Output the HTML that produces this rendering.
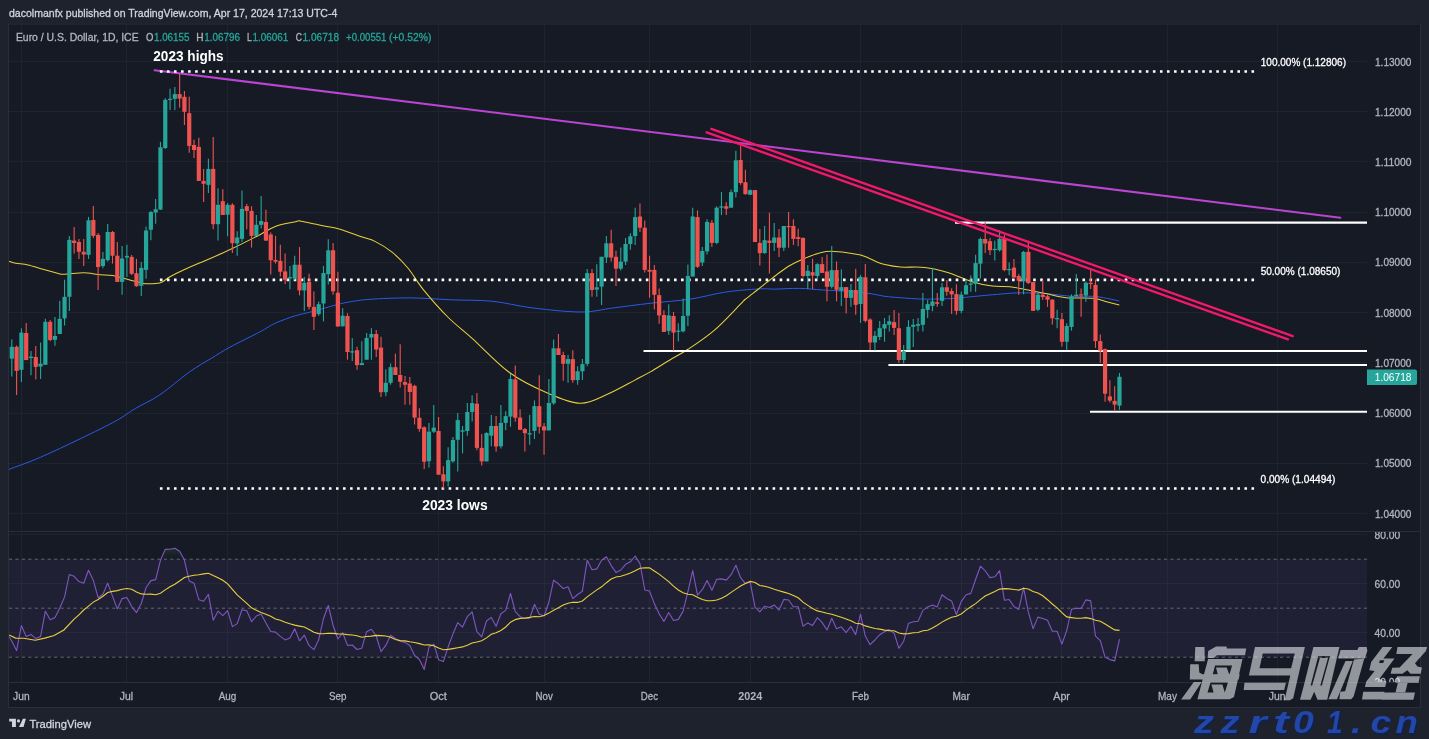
<!DOCTYPE html>
<html><head><meta charset="utf-8">
<style>
html,body{margin:0;padding:0;}
body{width:1429px;height:739px;background:#1e222d;position:relative;overflow:hidden;font-family:"Liberation Sans",sans-serif;}
svg text{font-family:"Liberation Sans",sans-serif;}
</style></head><body>
<div style="position:absolute;left:8px;top:23px;width:1413px;height:685px;background:#161a25;"></div>
<svg width="1429" height="739" style="position:absolute;left:0;top:0;will-change:transform">
<defs><clipPath id="cm"><rect x="9" y="24" width="1358" height="507"/></clipPath>
<clipPath id="cr"><rect x="9" y="532" width="1358" height="150"/></clipPath>
<clipPath id="cra"><rect x="1367" y="532" width="53" height="150"/></clipPath></defs>
<path d="M9 531.5H1420M9 682.5H1420" stroke="#2a2e39" stroke-width="1"/>
<path d="M8.5 24H1420.5V707.5H8.5Z" fill="none" stroke="#2a2e39" stroke-width="1.15"/>
<path d="M21.5 24V682 M126.5 24V682 M227.5 24V682 M337.5 24V682 M438.5 24V682 M544.5 24V682 M649.5 24V682 M750.5 24V682 M860.5 24V682 M961.5 24V682 M1061.5 24V682 M1167.5 24V682 M1277.5 24V682 M9 61.5H1367 M9 111.5H1367 M9 161.5H1367 M9 212.5H1367 M9 262.5H1367 M9 312.5H1367 M9 362.5H1367 M9 413.5H1367 M9 463.5H1367 M9 513.5H1367 M9 534.5H1367 M9 583.5H1367 M9 632.5H1367" stroke="#1f232e" stroke-width="1" fill="none"/>
<g clip-path="url(#cr)">
<rect x="9" y="559.2" width="1358" height="97.9" fill="rgba(126,87,194,0.1)"/>
</g><g clip-path="url(#cr)">
<path d="M9 559.2H1367" stroke="rgba(120,123,134,0.8)" stroke-width="1" stroke-dasharray="3.1 3.3524"/>
<path d="M9 608.2H1367" stroke="rgba(120,123,134,0.8)" stroke-width="1" stroke-dasharray="3.1 3.3524"/>
<path d="M9 657.2H1367" stroke="rgba(120,123,134,0.8)" stroke-width="1" stroke-dasharray="3.1 3.3524"/>
<defs><linearGradient id="gob" gradientUnits="userSpaceOnUse" x1="0" y1="485.8" x2="0" y2="559.2"><stop offset="0" stop-color="#4caf50" stop-opacity="1"/><stop offset="1" stop-color="#4caf50" stop-opacity="0"/></linearGradient><linearGradient id="gos" gradientUnits="userSpaceOnUse" x1="0" y1="657.2" x2="0" y2="730.6"><stop offset="0" stop-color="#ff5252" stop-opacity="0"/><stop offset="1" stop-color="#ff5252" stop-opacity="1"/></linearGradient></defs>
<polygon points="9.0,559.2 11.8,559.2 16.6,559.2 21.4,559.2 26.2,559.2 31.0,559.2 35.8,559.2 40.6,559.2 45.4,559.2 50.2,559.2 55.0,559.2 59.8,559.2 64.6,559.2 69.3,559.2 74.1,559.2 78.9,559.2 83.7,559.2 88.5,559.2 93.3,559.2 98.1,559.2 102.9,559.2 107.7,559.2 112.5,559.2 117.3,559.2 122.1,559.2 126.9,559.2 131.7,559.2 136.5,559.2 141.3,559.2 146.1,559.2 150.9,559.2 155.7,559.2 160.5,559.2 165.2,549.4 170.0,549.2 174.8,548.2 179.6,551.2 184.4,559.2 189.2,559.2 194.0,559.2 198.8,559.2 203.6,559.2 208.4,559.2 213.2,559.2 218.0,559.2 222.8,559.2 227.6,559.2 232.4,559.2 237.2,559.2 242.0,559.2 246.8,559.2 251.6,559.2 256.4,559.2 261.1,559.2 265.9,559.2 270.7,559.2 275.5,559.2 280.3,559.2 285.1,559.2 289.9,559.2 294.7,559.2 299.5,559.2 304.3,559.2 309.1,559.2 313.9,559.2 318.7,559.2 323.5,559.2 328.3,559.2 333.1,559.2 337.9,559.2 342.7,559.2 347.5,559.2 352.3,559.2 357.0,559.2 361.8,559.2 366.6,559.2 371.4,559.2 376.2,559.2 381.0,559.2 385.8,559.2 390.6,559.2 395.4,559.2 400.2,559.2 405.0,559.2 409.8,559.2 414.6,559.2 419.4,559.2 424.2,559.2 429.0,559.2 433.8,559.2 438.6,559.2 443.4,559.2 448.2,559.2 452.9,559.2 457.7,559.2 462.5,559.2 467.3,559.2 472.1,559.2 476.9,559.2 481.7,559.2 486.5,559.2 491.3,559.2 496.1,559.2 500.9,559.2 505.7,559.2 510.5,559.2 515.3,559.2 520.1,559.2 524.9,559.2 529.7,559.2 534.5,559.2 539.3,559.2 544.1,559.2 548.9,559.2 553.6,559.2 558.4,559.2 563.2,559.2 568.0,559.2 572.8,559.2 577.6,559.2 582.4,559.2 587.2,559.2 592.0,559.2 596.8,559.2 601.6,559.2 606.4,556.8 611.2,559.2 616.0,559.2 620.8,559.2 625.6,559.2 630.4,559.2 635.2,556.0 640.0,559.2 644.8,559.2 649.5,559.2 654.3,559.2 659.1,559.2 663.9,559.2 668.7,559.2 673.5,559.2 678.3,559.2 683.1,559.2 687.9,559.2 692.7,559.2 697.5,559.2 702.3,559.2 707.1,559.2 711.9,559.2 716.7,559.2 721.5,559.2 726.3,559.2 731.1,559.2 735.9,559.2 740.6,559.2 745.4,559.2 750.2,559.2 755.0,559.2 759.8,559.2 764.6,559.2 769.4,559.2 774.2,559.2 779.0,559.2 783.8,559.2 788.6,559.2 793.4,559.2 798.2,559.2 803.0,559.2 807.8,559.2 812.6,559.2 817.4,559.2 822.2,559.2 827.0,559.2 831.8,559.2 836.5,559.2 841.3,559.2 846.1,559.2 850.9,559.2 855.7,559.2 860.5,559.2 865.3,559.2 870.1,559.2 874.9,559.2 879.7,559.2 884.5,559.2 889.3,559.2 894.1,559.2 898.9,559.2 903.7,559.2 908.5,559.2 913.3,559.2 918.1,559.2 922.9,559.2 927.7,559.2 932.4,559.2 937.2,559.2 942.0,559.2 946.8,559.2 951.6,559.2 956.4,559.2 961.2,559.2 966.0,559.2 970.8,559.2 975.6,559.2 980.4,559.2 985.2,559.2 990.0,559.2 994.8,559.2 999.6,559.2 1004.4,559.2 1009.2,559.2 1014.0,559.2 1018.8,559.2 1023.6,559.2 1028.3,559.2 1033.1,559.2 1037.9,559.2 1042.7,559.2 1047.5,559.2 1052.3,559.2 1057.1,559.2 1061.9,559.2 1066.7,559.2 1071.5,559.2 1076.3,559.2 1081.1,559.2 1085.9,559.2 1090.7,559.2 1095.5,559.2 1100.3,559.2 1105.1,559.2 1109.9,559.2 1114.7,559.2 1119.5,559.2 1119.5,559.2 9,559.2" fill="url(#gob)"/>
<polygon points="9.0,657.2 11.8,657.2 16.6,657.2 21.4,657.2 26.2,657.2 31.0,657.2 35.8,657.2 40.6,657.2 45.4,657.2 50.2,657.2 55.0,657.2 59.8,657.2 64.6,657.2 69.3,657.2 74.1,657.2 78.9,657.2 83.7,657.2 88.5,657.2 93.3,657.2 98.1,657.2 102.9,657.2 107.7,657.2 112.5,657.2 117.3,657.2 122.1,657.2 126.9,657.2 131.7,657.2 136.5,657.2 141.3,657.2 146.1,657.2 150.9,657.2 155.7,657.2 160.5,657.2 165.2,657.2 170.0,657.2 174.8,657.2 179.6,657.2 184.4,657.2 189.2,657.2 194.0,657.2 198.8,657.2 203.6,657.2 208.4,657.2 213.2,657.2 218.0,657.2 222.8,657.2 227.6,657.2 232.4,657.2 237.2,657.2 242.0,657.2 246.8,657.2 251.6,657.2 256.4,657.2 261.1,657.2 265.9,657.2 270.7,657.2 275.5,657.2 280.3,657.2 285.1,657.2 289.9,657.2 294.7,657.2 299.5,657.2 304.3,657.2 309.1,657.2 313.9,657.2 318.7,657.2 323.5,657.2 328.3,657.2 333.1,657.2 337.9,657.2 342.7,657.2 347.5,657.2 352.3,657.2 357.0,657.2 361.8,657.2 366.6,657.2 371.4,657.2 376.2,657.2 381.0,657.2 385.8,657.2 390.6,657.2 395.4,657.2 400.2,657.2 405.0,657.2 409.8,657.2 414.6,657.2 419.4,659.5 424.2,669.6 429.0,657.2 433.8,657.2 438.6,659.7 443.4,661.6 448.2,657.2 452.9,657.2 457.7,657.2 462.5,657.2 467.3,657.2 472.1,657.2 476.9,657.2 481.7,657.2 486.5,657.2 491.3,657.2 496.1,657.2 500.9,657.2 505.7,657.2 510.5,657.2 515.3,657.2 520.1,657.2 524.9,657.2 529.7,657.2 534.5,657.2 539.3,657.2 544.1,657.2 548.9,657.2 553.6,657.2 558.4,657.2 563.2,657.2 568.0,657.2 572.8,657.2 577.6,657.2 582.4,657.2 587.2,657.2 592.0,657.2 596.8,657.2 601.6,657.2 606.4,657.2 611.2,657.2 616.0,657.2 620.8,657.2 625.6,657.2 630.4,657.2 635.2,657.2 640.0,657.2 644.8,657.2 649.5,657.2 654.3,657.2 659.1,657.2 663.9,657.2 668.7,657.2 673.5,657.2 678.3,657.2 683.1,657.2 687.9,657.2 692.7,657.2 697.5,657.2 702.3,657.2 707.1,657.2 711.9,657.2 716.7,657.2 721.5,657.2 726.3,657.2 731.1,657.2 735.9,657.2 740.6,657.2 745.4,657.2 750.2,657.2 755.0,657.2 759.8,657.2 764.6,657.2 769.4,657.2 774.2,657.2 779.0,657.2 783.8,657.2 788.6,657.2 793.4,657.2 798.2,657.2 803.0,657.2 807.8,657.2 812.6,657.2 817.4,657.2 822.2,657.2 827.0,657.2 831.8,657.2 836.5,657.2 841.3,657.2 846.1,657.2 850.9,657.2 855.7,657.2 860.5,657.2 865.3,657.2 870.1,657.2 874.9,657.2 879.7,657.2 884.5,657.2 889.3,657.2 894.1,657.2 898.9,657.2 903.7,657.2 908.5,657.2 913.3,657.2 918.1,657.2 922.9,657.2 927.7,657.2 932.4,657.2 937.2,657.2 942.0,657.2 946.8,657.2 951.6,657.2 956.4,657.2 961.2,657.2 966.0,657.2 970.8,657.2 975.6,657.2 980.4,657.2 985.2,657.2 990.0,657.2 994.8,657.2 999.6,657.2 1004.4,657.2 1009.2,657.2 1014.0,657.2 1018.8,657.2 1023.6,657.2 1028.3,657.2 1033.1,657.2 1037.9,657.2 1042.7,657.2 1047.5,657.2 1052.3,657.2 1057.1,657.2 1061.9,657.2 1066.7,657.2 1071.5,657.2 1076.3,657.2 1081.1,657.2 1085.9,657.2 1090.7,657.2 1095.5,657.2 1100.3,657.2 1105.1,657.3 1109.9,659.6 1114.7,660.9 1119.5,657.2 1119.5,657.2 9,657.2" fill="url(#gos)"/>
<polyline points="9.0,636.5 11.8,641.2 16.6,650.6 21.4,625.5 26.2,636.6 31.0,634.4 35.8,638.6 40.6,636.4 45.4,611.2 50.2,619.8 55.0,617.6 59.8,608.0 64.6,596.9 69.3,574.5 74.1,576.3 78.9,581.6 83.7,583.3 88.5,570.3 93.3,580.2 98.1,597.7 102.9,594.2 107.7,583.1 112.5,596.1 117.3,608.9 122.1,598.6 126.9,597.5 131.7,606.6 136.5,612.6 141.3,603.5 146.1,587.5 150.9,580.6 155.7,579.6 160.5,560.2 165.2,549.4 170.0,549.2 174.8,548.2 179.6,551.2 184.4,560.1 189.2,580.9 194.0,583.2 198.8,599.7 203.6,601.2 208.4,594.4 213.2,620.2 218.0,611.2 222.8,615.6 227.6,610.7 232.4,626.6 237.2,623.6 242.0,609.7 246.8,610.7 251.6,621.7 256.4,616.0 261.1,614.0 265.9,623.1 270.7,631.5 275.5,632.1 280.3,636.4 285.1,639.9 289.9,637.9 294.7,628.7 299.5,640.8 304.3,635.1 309.1,645.7 313.9,649.7 318.7,639.8 323.5,618.5 328.3,605.5 333.1,625.5 337.9,639.0 342.7,632.8 347.5,645.4 352.3,645.0 357.0,649.5 361.8,648.2 366.6,631.8 371.4,629.3 376.2,636.0 381.0,651.6 385.8,645.4 390.6,635.3 395.4,638.5 400.2,641.2 405.0,642.4 409.8,645.5 414.6,655.5 419.4,659.5 424.2,669.6 429.0,647.0 433.8,644.1 438.6,659.7 443.4,661.6 448.2,646.8 452.9,634.1 457.7,622.7 462.5,627.1 467.3,616.7 472.1,611.9 476.9,631.7 481.7,636.8 486.5,621.0 491.3,617.4 496.1,626.3 500.9,613.8 505.7,610.4 510.5,593.5 515.3,611.7 520.1,616.7 524.9,618.2 529.7,618.2 534.5,604.2 539.3,614.3 544.1,616.0 548.9,602.0 553.6,580.1 558.4,583.8 563.2,588.6 568.0,586.7 572.8,598.6 577.6,594.5 582.4,591.2 587.2,560.2 592.0,569.7 596.8,568.9 601.6,560.3 606.4,556.8 611.2,565.6 616.0,572.4 620.8,570.0 625.6,564.3 630.4,561.8 635.2,556.0 640.0,563.6 644.8,590.0 649.5,591.0 654.3,603.6 659.1,613.8 663.9,621.4 668.7,612.5 673.5,620.5 678.3,619.4 683.1,611.1 687.9,591.7 692.7,570.6 697.5,595.1 702.3,589.7 707.1,580.5 711.9,590.2 716.7,579.3 721.5,578.9 726.3,580.1 731.1,574.7 735.9,565.3 740.6,577.7 745.4,583.6 750.2,582.1 755.0,607.2 759.8,611.9 764.6,606.2 769.4,607.5 774.2,604.9 779.0,610.1 783.8,599.4 788.6,600.0 793.4,606.7 798.2,606.7 803.0,626.2 807.8,622.9 812.6,625.4 817.4,617.7 822.2,622.6 827.0,630.0 831.8,618.2 836.5,628.8 841.3,626.8 846.1,632.6 850.9,626.4 855.7,634.6 860.5,614.2 865.3,636.1 870.1,644.7 874.9,640.0 879.7,634.7 884.5,631.8 889.3,629.6 894.1,633.2 898.9,648.3 903.7,641.2 908.5,623.2 913.3,621.8 918.1,621.3 922.9,610.4 927.7,606.9 932.4,605.0 937.2,606.9 942.0,594.7 946.8,598.5 951.6,600.9 956.4,614.8 961.2,601.6 966.0,594.7 970.8,593.4 975.6,579.5 980.4,566.2 985.2,570.8 990.0,577.6 994.8,576.8 999.6,570.7 1004.4,600.3 1009.2,599.5 1014.0,606.6 1018.8,609.4 1023.6,587.8 1028.3,611.9 1033.1,628.6 1037.9,617.1 1042.7,618.5 1047.5,620.2 1052.3,631.3 1057.1,631.2 1061.9,644.1 1066.7,630.6 1071.5,609.3 1076.3,608.2 1081.1,608.4 1085.9,599.9 1090.7,600.9 1095.5,636.2 1100.3,640.6 1105.1,657.3 1109.9,659.6 1114.7,660.9 1119.5,639.1" fill="none" stroke="#7e57c2" stroke-width="1.1" stroke-linejoin="round"/>
<polyline points="9.1,635.0 15.6,638.1 23.8,638.3 35.3,640.3 44.8,638.1 54.1,635.6 63.9,630.0 74.1,619.1 78.9,614.9 83.7,610.0 88.5,606.1 93.3,602.1 98.1,599.5 102.9,596.3 107.7,592.5 112.5,591.4 117.3,590.6 122.1,589.3 126.9,588.5 131.7,589.2 136.5,591.9 141.3,593.9 146.1,594.3 150.9,594.1 155.7,594.8 160.5,593.3 165.2,589.9 170.0,586.7 174.8,584.2 179.6,581.0 184.4,577.5 189.2,576.2 194.0,575.2 198.8,574.7 203.6,573.9 208.4,573.2 213.2,575.6 218.0,577.8 222.8,580.3 227.6,583.9 232.4,589.4 237.2,594.8 242.0,599.2 246.8,603.4 251.6,607.8 256.4,610.3 261.1,612.5 265.9,614.2 270.7,616.3 275.5,619.0 280.3,620.2 285.1,622.2 289.9,623.8 294.7,625.1 299.5,626.1 304.3,627.0 309.1,629.5 313.9,632.3 318.7,633.6 323.5,633.8 328.3,633.2 333.1,633.4 337.9,633.9 342.7,634.0 347.5,634.6 352.3,635.0 357.0,635.8 361.8,637.2 366.6,636.5 371.4,636.1 376.2,635.4 381.0,635.6 385.8,636.0 390.6,637.2 395.4,639.5 400.2,640.6 405.0,640.9 409.8,641.8 414.6,642.5 419.4,643.6 424.2,645.0 429.0,644.9 433.8,645.8 438.6,648.0 443.4,649.8 448.2,649.4 452.9,648.6 457.7,647.7 462.5,646.9 467.3,645.2 472.1,643.0 476.9,642.0 481.7,640.7 486.5,637.9 491.3,634.2 496.1,632.7 500.9,630.5 505.7,627.0 510.5,622.2 515.3,619.6 520.1,618.4 524.9,618.1 529.7,617.4 534.5,616.5 539.3,616.7 544.1,615.6 548.9,613.1 553.6,610.2 558.4,607.8 563.2,605.1 568.0,603.2 572.8,602.3 577.6,602.4 582.4,600.9 587.2,596.9 592.0,593.4 596.8,589.9 601.6,586.8 606.4,582.7 611.2,579.1 616.0,577.0 620.8,576.2 625.6,574.8 630.4,572.9 635.2,570.7 640.0,568.2 644.8,567.9 649.5,567.9 654.3,571.0 659.1,574.1 663.9,577.9 668.7,581.6 673.5,586.2 678.3,590.0 683.1,592.8 687.9,594.3 692.7,594.8 697.5,597.2 702.3,599.6 707.1,600.8 711.9,600.8 716.7,600.0 721.5,598.2 726.3,595.8 731.1,592.4 735.9,589.1 740.6,586.0 745.4,583.5 750.2,581.4 755.0,582.5 759.8,585.5 764.6,586.2 769.4,587.5 774.2,589.3 779.0,590.7 783.8,592.1 788.6,593.6 793.4,595.5 798.2,597.8 803.0,602.1 807.8,605.4 812.6,608.4 817.4,610.9 822.2,612.0 827.0,613.3 831.8,614.2 836.5,615.7 841.3,617.2 846.1,618.9 850.9,620.8 855.7,623.3 860.5,623.8 865.3,625.9 870.1,627.2 874.9,628.5 879.7,629.1 884.5,630.1 889.3,630.6 894.1,630.8 898.9,633.0 903.7,633.9 908.5,633.6 913.3,632.8 918.1,632.5 922.9,630.7 927.7,630.2 932.4,628.0 937.2,625.3 942.0,622.1 946.8,619.5 951.6,617.3 956.4,616.2 961.2,614.0 966.0,610.1 970.8,606.7 975.6,603.6 980.4,599.6 985.2,596.0 990.0,593.7 994.8,591.5 999.6,589.1 1004.4,588.6 1009.2,588.9 1014.0,589.5 1018.8,590.1 1023.6,588.2 1028.3,589.0 1033.1,591.4 1037.9,593.1 1042.7,595.8 1047.5,599.7 1052.3,604.0 1057.1,607.8 1061.9,612.7 1066.7,616.9 1071.5,617.6 1076.3,618.2 1081.1,618.3 1085.9,617.6 1090.7,618.6 1095.5,620.3 1100.3,621.2 1105.1,624.0 1109.9,627.0 1114.7,629.9 1119.5,630.4" fill="none" stroke="#e9d03c" stroke-width="1.1"/>
</g>
<g clip-path="url(#cm)">
<path d="M8.9 469.4C14.2 467.4 28.6 462.4 40.6 457.2C52.6 452.0 68.6 444.4 81.2 438.3C93.8 432.2 107.3 425.7 116.3 420.7C125.3 415.7 128.1 412.8 135.3 408.5C142.5 404.2 150.6 401.1 159.6 395.0C168.6 388.9 180.8 378.1 189.4 372.0C198.0 365.9 204.2 362.6 211.0 358.5C217.8 354.4 221.9 351.5 230.0 347.1C238.1 342.7 252.1 336.0 259.7 332.0C267.2 328.0 269.3 325.9 275.3 323.2C281.3 320.5 289.5 317.6 295.6 315.7C301.7 313.8 305.0 313.5 311.8 311.7C318.6 309.9 329.9 306.5 336.2 304.9C342.5 303.3 344.1 302.8 349.7 301.9C355.3 301.0 359.9 300.0 370.0 299.3C380.1 298.6 397.1 297.8 410.6 297.9C424.1 298.0 437.7 299.2 451.2 299.8C464.7 300.4 478.3 299.9 491.8 301.2C505.3 302.5 517.4 306.1 532.3 307.9C547.2 309.7 567.5 312.0 581.0 312.0C594.5 312.0 602.0 309.3 613.5 307.9C625.0 306.4 637.1 304.8 650.0 303.3C662.9 301.8 678.4 300.9 690.9 299.0C703.4 297.1 713.4 293.9 724.7 292.2C736.0 290.5 750.2 289.4 758.6 288.9C767.0 288.4 768.4 289.2 775.3 289.1C782.1 289.0 791.8 288.2 799.7 288.4C807.6 288.5 814.4 289.5 822.7 290.0C831.0 290.5 841.8 290.8 849.7 291.4C857.6 292.0 864.1 292.8 870.0 293.6C875.9 294.4 879.9 295.6 884.9 296.3C889.9 297.0 893.7 297.2 900.3 297.7C906.9 298.2 915.7 299.0 924.7 299.1C933.7 299.2 946.1 298.8 954.4 298.4C962.7 297.9 965.5 297.2 974.7 296.4C984.0 295.5 1001.5 293.9 1009.9 293.3C1018.3 292.7 1019.3 292.8 1025.3 292.9C1031.2 292.9 1037.7 293.0 1045.6 293.6C1053.5 294.2 1064.8 295.9 1072.7 296.3C1080.6 296.8 1087.4 296.0 1093.0 296.3C1098.6 296.6 1102.1 297.5 1106.5 298.3C1110.9 299.1 1117.2 300.6 1119.3 301.0" fill="none" stroke="#2a5be6" stroke-width="1.0"/>
<path d="M9.1 261.2C10.2 261.5 12.7 262.6 15.8 263.2C18.9 263.8 23.5 264.0 28.0 265.0C32.5 266.0 37.7 267.9 42.9 269.3C48.1 270.8 55.5 272.9 59.1 273.7C62.7 274.5 60.4 274.4 64.5 274.2C68.6 274.0 78.8 272.8 83.5 272.7C88.2 272.6 90.2 273.4 93.0 273.7C95.8 274.0 96.7 274.4 100.0 274.7C103.3 275.0 108.5 274.8 112.6 275.4C116.7 276.0 121.0 277.6 124.5 278.5C128.0 279.4 130.4 280.2 133.6 281.0C136.8 281.8 139.7 283.0 143.4 283.4C147.1 283.8 153.0 283.6 156.0 283.4C159.0 283.2 159.3 283.5 161.6 282.4C163.9 281.3 166.3 278.9 170.0 276.8C173.7 274.7 179.0 272.1 184.0 269.8C189.0 267.5 196.6 264.2 200.0 262.8C203.4 261.4 198.9 263.5 204.4 261.1C209.9 258.7 223.6 252.7 232.8 248.3C242.1 243.9 252.8 238.3 259.9 234.7C267.0 231.0 269.4 228.6 275.3 226.4C281.2 224.2 291.5 222.6 295.6 221.7C299.7 220.8 297.1 220.6 300.0 220.9C302.9 221.2 308.8 222.9 313.2 223.8C317.6 224.7 322.2 225.5 326.7 226.4C331.2 227.3 334.4 227.6 340.0 229.3C345.6 231.0 354.6 234.4 360.5 236.5C366.4 238.6 370.1 238.9 375.4 241.6C380.7 244.2 387.0 248.0 392.4 252.4C397.8 256.8 402.8 261.9 407.9 268.0C413.0 274.1 416.5 281.1 423.1 289.3C429.8 297.5 439.6 308.8 447.8 317.0C456.0 325.2 462.1 329.4 472.4 338.6C482.7 347.9 497.1 363.5 509.4 372.5C521.7 381.5 534.5 387.4 546.3 392.5C558.1 397.6 569.9 403.1 580.2 403.3C590.5 403.6 598.8 397.9 607.9 394.0C617.0 390.1 627.8 383.8 634.9 380.1C642.0 376.4 644.5 375.2 650.3 371.9C656.1 368.6 663.2 364.0 669.5 360.2C675.8 356.4 680.6 354.2 688.0 349.3C695.4 344.4 705.2 338.0 713.9 330.6C722.6 323.2 734.8 309.9 740.0 304.7C745.2 299.5 742.1 301.9 745.0 299.5C747.9 297.1 753.1 293.2 757.2 290.0C761.4 286.8 766.6 282.6 769.9 280.0C773.2 277.4 773.8 276.8 777.0 274.5C780.2 272.2 784.8 268.5 789.0 266.0C793.2 263.5 796.6 261.8 802.0 259.5C807.4 257.2 815.8 253.8 821.3 252.4C826.8 251.1 828.3 251.0 834.8 251.4C841.3 251.8 853.5 253.3 860.5 255.1C867.5 256.8 872.7 260.3 876.8 261.9C880.9 263.5 881.0 263.7 884.9 264.6C888.8 265.5 893.7 266.6 900.3 267.1C906.9 267.6 916.8 266.5 924.7 267.4C932.6 268.3 939.8 270.1 947.7 272.5C955.6 274.9 964.6 279.4 972.0 281.7C979.4 284.0 986.0 285.2 992.3 286.1C998.6 287.0 1004.4 286.2 1009.9 286.8C1015.4 287.4 1019.3 288.4 1025.3 289.5C1031.2 290.6 1038.8 292.2 1045.6 293.6C1052.4 295.0 1058.0 296.9 1065.9 297.7C1073.8 298.5 1086.2 297.6 1093.0 298.3C1099.8 299.0 1102.1 300.6 1106.5 301.7C1110.9 302.8 1117.2 304.5 1119.3 305.1" fill="none" stroke="#e9d03c" stroke-width="1.05"/>
<path d="M955.0 222.6H1367" stroke="#ffffff" stroke-width="2.05"/>
<path d="M643.5 350.9H1367" stroke="#ffffff" stroke-width="2.05"/>
<path d="M888.4 364.9H1367" stroke="#ffffff" stroke-width="2.05"/>
<path d="M1090.0 411.8H1367" stroke="#ffffff" stroke-width="2.05"/>
<path d="M154.6 70.3L1340.4 217.7" stroke="#ba45d0" stroke-width="2.05" stroke-linecap="round"/>
<path d="M159.9 71.5H1255" stroke="#ffffff" stroke-width="2.6" stroke-dasharray="2.6 4.4425"/>
<path d="M159.9 279.9H1255" stroke="#ffffff" stroke-width="2.6" stroke-dasharray="2.6 4.4425"/>
<path d="M159.9 488.5H1255" stroke="#ffffff" stroke-width="2.6" stroke-dasharray="2.6 4.4425"/>
<path d="M11.81 339.4V376.6" stroke="#26a69a" stroke-width="1.1"/>
<rect x="9.71" y="346.8" width="4.2" height="11.9" fill="#26a69a"/>
<path d="M16.60 345.5V395.0" stroke="#ef5350" stroke-width="1.1"/>
<rect x="14.50" y="346.8" width="4.2" height="24.1" fill="#ef5350"/>
<path d="M21.40 328.3V382.0" stroke="#26a69a" stroke-width="1.1"/>
<rect x="19.30" y="332.6" width="4.2" height="37.2" fill="#26a69a"/>
<path d="M26.20 322.9V360.1" stroke="#ef5350" stroke-width="1.1"/>
<rect x="24.09" y="333.0" width="4.2" height="27.1" fill="#ef5350"/>
<path d="M30.99 350.9V375.2" stroke="#26a69a" stroke-width="1.1"/>
<rect x="28.89" y="356.6" width="4.2" height="1.4" fill="#26a69a"/>
<path d="M35.78 345.9V379.6" stroke="#ef5350" stroke-width="1.1"/>
<rect x="33.68" y="357.0" width="4.2" height="9.9" fill="#ef5350"/>
<path d="M40.58 342.4V379.0" stroke="#26a69a" stroke-width="1.1"/>
<rect x="38.48" y="363.7" width="4.2" height="2.8" fill="#26a69a"/>
<path d="M45.38 318.8V364.8" stroke="#26a69a" stroke-width="1.1"/>
<rect x="43.27" y="321.8" width="4.2" height="43.0" fill="#26a69a"/>
<path d="M50.17 320.0V341.2" stroke="#ef5350" stroke-width="1.1"/>
<rect x="48.07" y="321.8" width="4.2" height="18.2" fill="#ef5350"/>
<path d="M54.96 317.0V345.8" stroke="#26a69a" stroke-width="1.1"/>
<rect x="52.86" y="336.0" width="4.2" height="3.8" fill="#26a69a"/>
<path d="M59.76 300.8V334.0" stroke="#26a69a" stroke-width="1.1"/>
<rect x="57.66" y="318.8" width="4.2" height="15.2" fill="#26a69a"/>
<path d="M64.56 279.8V325.5" stroke="#26a69a" stroke-width="1.1"/>
<rect x="62.46" y="296.8" width="4.2" height="21.6" fill="#26a69a"/>
<path d="M69.35 235.9V311.0" stroke="#26a69a" stroke-width="1.1"/>
<rect x="67.25" y="239.9" width="4.2" height="56.9" fill="#26a69a"/>
<path d="M74.14 227.0V253.5" stroke="#ef5350" stroke-width="1.1"/>
<rect x="72.05" y="240.6" width="4.2" height="2.4" fill="#ef5350"/>
<path d="M78.94 239.0V258.9" stroke="#ef5350" stroke-width="1.1"/>
<rect x="76.84" y="242.0" width="4.2" height="9.8" fill="#ef5350"/>
<path d="M83.73 239.0V266.0" stroke="#ef5350" stroke-width="1.1"/>
<rect x="81.64" y="251.8" width="4.2" height="2.7" fill="#ef5350"/>
<path d="M88.53 216.9V258.9" stroke="#26a69a" stroke-width="1.1"/>
<rect x="86.43" y="220.3" width="4.2" height="34.5" fill="#26a69a"/>
<path d="M93.32 206.0V237.9" stroke="#ef5350" stroke-width="1.1"/>
<rect x="91.22" y="220.0" width="4.2" height="15.9" fill="#ef5350"/>
<path d="M98.12 233.0V290.0" stroke="#ef5350" stroke-width="1.1"/>
<rect x="96.02" y="234.9" width="4.2" height="32.1" fill="#ef5350"/>
<path d="M102.91 252.0V268.3" stroke="#26a69a" stroke-width="1.1"/>
<rect x="100.81" y="258.9" width="4.2" height="7.1" fill="#26a69a"/>
<path d="M107.71 224.0V261.6" stroke="#26a69a" stroke-width="1.1"/>
<rect x="105.61" y="232.0" width="4.2" height="28.2" fill="#26a69a"/>
<path d="M112.50 231.0V263.6" stroke="#ef5350" stroke-width="1.1"/>
<rect x="110.41" y="232.0" width="4.2" height="23.7" fill="#ef5350"/>
<path d="M117.30 242.0V281.9" stroke="#ef5350" stroke-width="1.1"/>
<rect x="115.20" y="255.7" width="4.2" height="26.2" fill="#ef5350"/>
<path d="M122.09 246.0V294.7" stroke="#26a69a" stroke-width="1.1"/>
<rect x="120.00" y="258.5" width="4.2" height="23.4" fill="#26a69a"/>
<path d="M126.89 244.7V277.0" stroke="#26a69a" stroke-width="1.1"/>
<rect x="124.79" y="255.9" width="4.2" height="1.6" fill="#26a69a"/>
<path d="M131.69 255.0V275.0" stroke="#ef5350" stroke-width="1.1"/>
<rect x="129.59" y="256.9" width="4.2" height="16.9" fill="#ef5350"/>
<path d="M136.48 258.8V286.8" stroke="#ef5350" stroke-width="1.1"/>
<rect x="134.38" y="273.3" width="4.2" height="12.9" fill="#ef5350"/>
<path d="M141.28 262.0V296.0" stroke="#26a69a" stroke-width="1.1"/>
<rect x="139.18" y="267.9" width="4.2" height="17.9" fill="#26a69a"/>
<path d="M146.07 226.5V278.7" stroke="#26a69a" stroke-width="1.1"/>
<rect x="143.97" y="230.5" width="4.2" height="39.4" fill="#26a69a"/>
<path d="M150.87 210.9V240.3" stroke="#26a69a" stroke-width="1.1"/>
<rect x="148.77" y="212.0" width="4.2" height="17.8" fill="#26a69a"/>
<path d="M155.66 199.0V223.7" stroke="#26a69a" stroke-width="1.1"/>
<rect x="153.56" y="209.3" width="4.2" height="3.2" fill="#26a69a"/>
<path d="M160.46 141.9V210.0" stroke="#26a69a" stroke-width="1.1"/>
<rect x="158.36" y="147.3" width="4.2" height="62.2" fill="#26a69a"/>
<path d="M165.25 98.3V149.0" stroke="#26a69a" stroke-width="1.1"/>
<rect x="163.15" y="99.9" width="4.2" height="48.1" fill="#26a69a"/>
<path d="M170.05 88.8V110.0" stroke="#26a69a" stroke-width="1.1"/>
<rect x="167.95" y="98.8" width="4.2" height="1.2" fill="#26a69a"/>
<path d="M174.84 87.0V110.0" stroke="#26a69a" stroke-width="1.1"/>
<rect x="172.74" y="94.1" width="4.2" height="4.7" fill="#26a69a"/>
<path d="M179.63 73.5V107.4" stroke="#ef5350" stroke-width="1.1"/>
<rect x="177.53" y="94.1" width="4.2" height="4.5" fill="#ef5350"/>
<path d="M184.43 91.1V125.0" stroke="#ef5350" stroke-width="1.1"/>
<rect x="182.33" y="96.8" width="4.2" height="15.0" fill="#ef5350"/>
<path d="M189.22 96.8V152.7" stroke="#ef5350" stroke-width="1.1"/>
<rect x="187.12" y="113.2" width="4.2" height="32.7" fill="#ef5350"/>
<path d="M194.02 139.8V158.0" stroke="#ef5350" stroke-width="1.1"/>
<rect x="191.92" y="145.0" width="4.2" height="5.0" fill="#ef5350"/>
<path d="M198.81 137.8V181.0" stroke="#ef5350" stroke-width="1.1"/>
<rect x="196.72" y="146.9" width="4.2" height="34.0" fill="#ef5350"/>
<path d="M203.61 169.0V202.0" stroke="#ef5350" stroke-width="1.1"/>
<rect x="201.51" y="180.9" width="4.2" height="2.9" fill="#ef5350"/>
<path d="M208.41 158.8V193.0" stroke="#26a69a" stroke-width="1.1"/>
<rect x="206.31" y="168.9" width="4.2" height="16.0" fill="#26a69a"/>
<path d="M213.20 137.1V229.2" stroke="#ef5350" stroke-width="1.1"/>
<rect x="211.10" y="168.9" width="4.2" height="55.3" fill="#ef5350"/>
<path d="M218.00 188.3V240.4" stroke="#26a69a" stroke-width="1.1"/>
<rect x="215.90" y="204.8" width="4.2" height="19.4" fill="#26a69a"/>
<path d="M222.79 189.2V215.0" stroke="#ef5350" stroke-width="1.1"/>
<rect x="220.69" y="201.2" width="4.2" height="13.8" fill="#ef5350"/>
<path d="M227.59 203.0V236.2" stroke="#26a69a" stroke-width="1.1"/>
<rect x="225.49" y="204.8" width="4.2" height="9.9" fill="#26a69a"/>
<path d="M232.38 203.2V253.0" stroke="#ef5350" stroke-width="1.1"/>
<rect x="230.28" y="204.8" width="4.2" height="38.4" fill="#ef5350"/>
<path d="M237.18 231.2V255.7" stroke="#26a69a" stroke-width="1.1"/>
<rect x="235.08" y="237.5" width="4.2" height="5.9" fill="#26a69a"/>
<path d="M241.97 190.6V242.0" stroke="#26a69a" stroke-width="1.1"/>
<rect x="239.87" y="208.9" width="4.2" height="30.0" fill="#26a69a"/>
<path d="M246.77 204.1V229.2" stroke="#ef5350" stroke-width="1.1"/>
<rect x="244.67" y="206.2" width="4.2" height="4.7" fill="#ef5350"/>
<path d="M251.56 206.2V247.5" stroke="#ef5350" stroke-width="1.1"/>
<rect x="249.46" y="210.9" width="4.2" height="25.0" fill="#ef5350"/>
<path d="M256.35 214.9V236.1" stroke="#26a69a" stroke-width="1.1"/>
<rect x="254.25" y="224.8" width="4.2" height="11.1" fill="#26a69a"/>
<path d="M261.15 196.0V228.4" stroke="#26a69a" stroke-width="1.1"/>
<rect x="259.05" y="221.0" width="4.2" height="3.8" fill="#26a69a"/>
<path d="M265.94 209.7V241.0" stroke="#ef5350" stroke-width="1.1"/>
<rect x="263.84" y="222.0" width="4.2" height="18.6" fill="#ef5350"/>
<path d="M270.74 232.5V274.4" stroke="#ef5350" stroke-width="1.1"/>
<rect x="268.64" y="234.5" width="4.2" height="25.7" fill="#ef5350"/>
<path d="M275.53 235.9V263.6" stroke="#ef5350" stroke-width="1.1"/>
<rect x="273.43" y="259.9" width="4.2" height="1.7" fill="#ef5350"/>
<path d="M280.33 244.7V276.5" stroke="#ef5350" stroke-width="1.1"/>
<rect x="278.23" y="260.9" width="4.2" height="10.8" fill="#ef5350"/>
<path d="M285.12 253.5V283.9" stroke="#ef5350" stroke-width="1.1"/>
<rect x="283.02" y="271.4" width="4.2" height="8.4" fill="#ef5350"/>
<path d="M289.92 266.0V289.3" stroke="#26a69a" stroke-width="1.1"/>
<rect x="287.82" y="277.1" width="4.2" height="1.4" fill="#26a69a"/>
<path d="M294.71 255.8V280.0" stroke="#26a69a" stroke-width="1.1"/>
<rect x="292.61" y="264.7" width="4.2" height="13.8" fill="#26a69a"/>
<path d="M299.51 247.1V295.4" stroke="#ef5350" stroke-width="1.1"/>
<rect x="297.41" y="264.7" width="4.2" height="25.7" fill="#ef5350"/>
<path d="M304.30 277.0V311.0" stroke="#26a69a" stroke-width="1.1"/>
<rect x="302.20" y="282.8" width="4.2" height="7.6" fill="#26a69a"/>
<path d="M309.10 273.7V309.6" stroke="#ef5350" stroke-width="1.1"/>
<rect x="307.00" y="281.9" width="4.2" height="25.0" fill="#ef5350"/>
<path d="M313.89 291.4V329.9" stroke="#ef5350" stroke-width="1.1"/>
<rect x="311.79" y="306.9" width="4.2" height="9.9" fill="#ef5350"/>
<path d="M318.69 301.5V315.7" stroke="#26a69a" stroke-width="1.1"/>
<rect x="316.59" y="304.2" width="4.2" height="9.9" fill="#26a69a"/>
<path d="M323.48 266.0V321.4" stroke="#26a69a" stroke-width="1.1"/>
<rect x="321.38" y="273.0" width="4.2" height="30.5" fill="#26a69a"/>
<path d="M328.28 239.2V284.6" stroke="#26a69a" stroke-width="1.1"/>
<rect x="326.18" y="250.3" width="4.2" height="23.9" fill="#26a69a"/>
<path d="M333.07 243.0V294.7" stroke="#ef5350" stroke-width="1.1"/>
<rect x="330.97" y="250.3" width="4.2" height="41.0" fill="#ef5350"/>
<path d="M337.87 271.7V326.5" stroke="#ef5350" stroke-width="1.1"/>
<rect x="335.77" y="292.7" width="4.2" height="33.8" fill="#ef5350"/>
<path d="M342.66 308.3V326.5" stroke="#26a69a" stroke-width="1.1"/>
<rect x="340.56" y="315.7" width="4.2" height="10.6" fill="#26a69a"/>
<path d="M347.46 313.3V359.7" stroke="#ef5350" stroke-width="1.1"/>
<rect x="345.36" y="316.0" width="4.2" height="36.0" fill="#ef5350"/>
<path d="M352.25 338.0V361.0" stroke="#26a69a" stroke-width="1.1"/>
<rect x="350.15" y="351.3" width="4.2" height="1.2" fill="#26a69a"/>
<path d="M357.05 346.8V369.8" stroke="#ef5350" stroke-width="1.1"/>
<rect x="354.95" y="350.2" width="4.2" height="14.9" fill="#ef5350"/>
<path d="M361.84 341.2V365.1" stroke="#26a69a" stroke-width="1.1"/>
<rect x="359.74" y="363.1" width="4.2" height="2.0" fill="#26a69a"/>
<path d="M366.64 333.0V359.7" stroke="#26a69a" stroke-width="1.1"/>
<rect x="364.54" y="338.0" width="4.2" height="21.7" fill="#26a69a"/>
<path d="M371.43 328.2V359.7" stroke="#26a69a" stroke-width="1.1"/>
<rect x="369.33" y="334.0" width="4.2" height="3.6" fill="#26a69a"/>
<path d="M376.23 330.0V357.0" stroke="#ef5350" stroke-width="1.1"/>
<rect x="374.13" y="334.0" width="4.2" height="15.5" fill="#ef5350"/>
<path d="M381.02 336.8V397.0" stroke="#ef5350" stroke-width="1.1"/>
<rect x="378.92" y="347.6" width="4.2" height="44.6" fill="#ef5350"/>
<path d="M385.82 369.2V396.3" stroke="#26a69a" stroke-width="1.1"/>
<rect x="383.72" y="382.8" width="4.2" height="9.4" fill="#26a69a"/>
<path d="M390.61 363.6V384.8" stroke="#26a69a" stroke-width="1.1"/>
<rect x="388.51" y="367.2" width="4.2" height="15.6" fill="#26a69a"/>
<path d="M395.41 353.7V375.0" stroke="#ef5350" stroke-width="1.1"/>
<rect x="393.31" y="367.2" width="4.2" height="7.8" fill="#ef5350"/>
<path d="M400.20 344.2V387.5" stroke="#ef5350" stroke-width="1.1"/>
<rect x="398.10" y="375.0" width="4.2" height="6.8" fill="#ef5350"/>
<path d="M405.00 376.0V404.7" stroke="#ef5350" stroke-width="1.1"/>
<rect x="402.90" y="382.1" width="4.2" height="2.7" fill="#ef5350"/>
<path d="M409.79 377.1V404.7" stroke="#ef5350" stroke-width="1.1"/>
<rect x="407.69" y="383.5" width="4.2" height="8.5" fill="#ef5350"/>
<path d="M414.59 384.8V424.6" stroke="#ef5350" stroke-width="1.1"/>
<rect x="412.49" y="385.9" width="4.2" height="31.7" fill="#ef5350"/>
<path d="M419.38 408.2V431.7" stroke="#ef5350" stroke-width="1.1"/>
<rect x="417.28" y="417.8" width="4.2" height="11.1" fill="#ef5350"/>
<path d="M424.18 426.2V468.9" stroke="#ef5350" stroke-width="1.1"/>
<rect x="422.08" y="427.3" width="4.2" height="34.5" fill="#ef5350"/>
<path d="M428.97 423.1V467.5" stroke="#26a69a" stroke-width="1.1"/>
<rect x="426.87" y="431.7" width="4.2" height="29.5" fill="#26a69a"/>
<path d="M433.77 405.1V433.0" stroke="#26a69a" stroke-width="1.1"/>
<rect x="431.67" y="427.6" width="4.2" height="4.1" fill="#26a69a"/>
<path d="M438.56 417.0V474.7" stroke="#ef5350" stroke-width="1.1"/>
<rect x="436.46" y="431.0" width="4.2" height="43.7" fill="#ef5350"/>
<path d="M443.36 466.2V488.5" stroke="#ef5350" stroke-width="1.1"/>
<rect x="441.26" y="474.3" width="4.2" height="7.1" fill="#ef5350"/>
<path d="M448.15 447.2V486.5" stroke="#26a69a" stroke-width="1.1"/>
<rect x="446.05" y="460.1" width="4.2" height="21.3" fill="#26a69a"/>
<path d="M452.95 437.0V462.8" stroke="#26a69a" stroke-width="1.1"/>
<rect x="450.85" y="440.0" width="4.2" height="21.4" fill="#26a69a"/>
<path d="M457.74 413.0V471.6" stroke="#26a69a" stroke-width="1.1"/>
<rect x="455.64" y="420.1" width="4.2" height="19.7" fill="#26a69a"/>
<path d="M462.54 426.0V453.3" stroke="#26a69a" stroke-width="1.1"/>
<rect x="460.44" y="430.3" width="4.2" height="1.4" fill="#26a69a"/>
<path d="M467.33 403.0V435.7" stroke="#26a69a" stroke-width="1.1"/>
<rect x="465.23" y="412.0" width="4.2" height="19.0" fill="#26a69a"/>
<path d="M472.13 395.2V421.5" stroke="#26a69a" stroke-width="1.1"/>
<rect x="470.03" y="403.1" width="4.2" height="8.8" fill="#26a69a"/>
<path d="M476.92 392.9V450.3" stroke="#ef5350" stroke-width="1.1"/>
<rect x="474.82" y="403.7" width="4.2" height="44.2" fill="#ef5350"/>
<path d="M481.72 434.1V465.5" stroke="#ef5350" stroke-width="1.1"/>
<rect x="479.62" y="447.9" width="4.2" height="13.5" fill="#ef5350"/>
<path d="M486.51 432.3V461.4" stroke="#26a69a" stroke-width="1.1"/>
<rect x="484.41" y="433.0" width="4.2" height="28.4" fill="#26a69a"/>
<path d="M491.31 415.1V446.3" stroke="#26a69a" stroke-width="1.1"/>
<rect x="489.21" y="426.0" width="4.2" height="9.7" fill="#26a69a"/>
<path d="M496.10 416.1V451.7" stroke="#ef5350" stroke-width="1.1"/>
<rect x="494.00" y="426.0" width="4.2" height="20.5" fill="#ef5350"/>
<path d="M500.90 405.1V448.6" stroke="#26a69a" stroke-width="1.1"/>
<rect x="498.80" y="422.9" width="4.2" height="23.4" fill="#26a69a"/>
<path d="M505.69 411.2V430.3" stroke="#26a69a" stroke-width="1.1"/>
<rect x="503.59" y="416.1" width="4.2" height="6.8" fill="#26a69a"/>
<path d="M510.49 374.0V426.8" stroke="#26a69a" stroke-width="1.1"/>
<rect x="508.39" y="379.0" width="4.2" height="37.6" fill="#26a69a"/>
<path d="M515.28 365.5V421.7" stroke="#ef5350" stroke-width="1.1"/>
<rect x="513.18" y="379.4" width="4.2" height="38.4" fill="#ef5350"/>
<path d="M520.08 409.2V429.8" stroke="#ef5350" stroke-width="1.1"/>
<rect x="517.98" y="417.6" width="4.2" height="12.2" fill="#ef5350"/>
<path d="M524.88 428.0V451.4" stroke="#ef5350" stroke-width="1.1"/>
<rect x="522.77" y="429.1" width="4.2" height="4.1" fill="#ef5350"/>
<path d="M529.67 414.9V444.7" stroke="#26a69a" stroke-width="1.1"/>
<rect x="527.57" y="433.2" width="4.2" height="1.3" fill="#26a69a"/>
<path d="M534.46 400.4V439.0" stroke="#26a69a" stroke-width="1.1"/>
<rect x="532.36" y="406.1" width="4.2" height="24.8" fill="#26a69a"/>
<path d="M539.26 375.3V433.6" stroke="#ef5350" stroke-width="1.1"/>
<rect x="537.16" y="406.1" width="4.2" height="20.7" fill="#ef5350"/>
<path d="M544.05 423.0V454.8" stroke="#ef5350" stroke-width="1.1"/>
<rect x="541.95" y="426.4" width="4.2" height="4.0" fill="#ef5350"/>
<path d="M548.85 379.0V430.4" stroke="#26a69a" stroke-width="1.1"/>
<rect x="546.75" y="403.0" width="4.2" height="27.4" fill="#26a69a"/>
<path d="M553.64 339.5V404.7" stroke="#26a69a" stroke-width="1.1"/>
<rect x="551.54" y="348.3" width="4.2" height="55.0" fill="#26a69a"/>
<path d="M558.44 334.0V355.0" stroke="#ef5350" stroke-width="1.1"/>
<rect x="556.34" y="348.3" width="4.2" height="6.7" fill="#ef5350"/>
<path d="M563.24 351.7V380.7" stroke="#ef5350" stroke-width="1.1"/>
<rect x="561.13" y="355.0" width="4.2" height="8.8" fill="#ef5350"/>
<path d="M568.03 355.0V382.8" stroke="#26a69a" stroke-width="1.1"/>
<rect x="565.93" y="359.1" width="4.2" height="4.7" fill="#26a69a"/>
<path d="M572.82 350.3V382.8" stroke="#ef5350" stroke-width="1.1"/>
<rect x="570.72" y="359.1" width="4.2" height="21.0" fill="#ef5350"/>
<path d="M577.62 366.3V384.8" stroke="#26a69a" stroke-width="1.1"/>
<rect x="575.52" y="371.3" width="4.2" height="8.8" fill="#26a69a"/>
<path d="M582.41 359.1V380.1" stroke="#26a69a" stroke-width="1.1"/>
<rect x="580.31" y="364.1" width="4.2" height="7.2" fill="#26a69a"/>
<path d="M587.21 269.0V366.3" stroke="#26a69a" stroke-width="1.1"/>
<rect x="585.11" y="273.1" width="4.2" height="90.7" fill="#26a69a"/>
<path d="M592.00 269.0V296.8" stroke="#ef5350" stroke-width="1.1"/>
<rect x="589.90" y="273.1" width="4.2" height="16.9" fill="#ef5350"/>
<path d="M596.80 264.3V296.8" stroke="#26a69a" stroke-width="1.1"/>
<rect x="594.70" y="287.3" width="4.2" height="2.3" fill="#26a69a"/>
<path d="M601.59 256.8V305.0" stroke="#26a69a" stroke-width="1.1"/>
<rect x="599.49" y="256.8" width="4.2" height="29.8" fill="#26a69a"/>
<path d="M606.39 235.9V262.9" stroke="#26a69a" stroke-width="1.1"/>
<rect x="604.29" y="243.3" width="4.2" height="14.2" fill="#26a69a"/>
<path d="M611.18 229.8V261.6" stroke="#ef5350" stroke-width="1.1"/>
<rect x="609.08" y="243.3" width="4.2" height="14.2" fill="#ef5350"/>
<path d="M615.98 250.7V285.9" stroke="#ef5350" stroke-width="1.1"/>
<rect x="613.88" y="256.8" width="4.2" height="11.9" fill="#ef5350"/>
<path d="M620.77 247.4V270.4" stroke="#26a69a" stroke-width="1.1"/>
<rect x="618.67" y="261.6" width="4.2" height="7.1" fill="#26a69a"/>
<path d="M625.57 237.9V265.0" stroke="#26a69a" stroke-width="1.1"/>
<rect x="623.47" y="244.0" width="4.2" height="17.6" fill="#26a69a"/>
<path d="M630.37 233.2V249.8" stroke="#26a69a" stroke-width="1.1"/>
<rect x="628.26" y="236.3" width="4.2" height="7.7" fill="#26a69a"/>
<path d="M635.16 207.7V244.9" stroke="#26a69a" stroke-width="1.1"/>
<rect x="633.06" y="217.1" width="4.2" height="19.0" fill="#26a69a"/>
<path d="M639.95 203.6V232.0" stroke="#ef5350" stroke-width="1.1"/>
<rect x="637.85" y="216.5" width="4.2" height="11.2" fill="#ef5350"/>
<path d="M644.75 220.5V272.6" stroke="#ef5350" stroke-width="1.1"/>
<rect x="642.65" y="227.7" width="4.2" height="42.2" fill="#ef5350"/>
<path d="M649.54 255.7V297.7" stroke="#ef5350" stroke-width="1.1"/>
<rect x="647.44" y="269.9" width="4.2" height="1.8" fill="#ef5350"/>
<path d="M654.34 264.9V309.6" stroke="#ef5350" stroke-width="1.1"/>
<rect x="652.24" y="269.9" width="4.2" height="24.9" fill="#ef5350"/>
<path d="M659.13 288.5V323.8" stroke="#ef5350" stroke-width="1.1"/>
<rect x="657.03" y="295.1" width="4.2" height="20.3" fill="#ef5350"/>
<path d="M663.93 310.3V332.0" stroke="#ef5350" stroke-width="1.1"/>
<rect x="661.83" y="315.0" width="4.2" height="17.0" fill="#ef5350"/>
<path d="M668.73 304.2V334.7" stroke="#26a69a" stroke-width="1.1"/>
<rect x="666.62" y="315.4" width="4.2" height="15.5" fill="#26a69a"/>
<path d="M673.52 311.9V350.6" stroke="#ef5350" stroke-width="1.1"/>
<rect x="671.42" y="316.0" width="4.2" height="16.6" fill="#ef5350"/>
<path d="M678.31 323.2V341.4" stroke="#26a69a" stroke-width="1.1"/>
<rect x="676.21" y="330.6" width="4.2" height="1.2" fill="#26a69a"/>
<path d="M683.11 298.4V332.6" stroke="#26a69a" stroke-width="1.1"/>
<rect x="681.01" y="316.0" width="4.2" height="15.3" fill="#26a69a"/>
<path d="M687.90 264.5V325.9" stroke="#26a69a" stroke-width="1.1"/>
<rect x="685.80" y="276.0" width="4.2" height="39.7" fill="#26a69a"/>
<path d="M692.70 207.7V276.7" stroke="#26a69a" stroke-width="1.1"/>
<rect x="690.60" y="216.5" width="4.2" height="60.0" fill="#26a69a"/>
<path d="M697.50 210.4V267.9" stroke="#ef5350" stroke-width="1.1"/>
<rect x="695.39" y="217.1" width="4.2" height="49.7" fill="#ef5350"/>
<path d="M702.29 246.9V265.9" stroke="#26a69a" stroke-width="1.1"/>
<rect x="700.19" y="251.0" width="4.2" height="11.5" fill="#26a69a"/>
<path d="M707.08 219.2V254.4" stroke="#26a69a" stroke-width="1.1"/>
<rect x="704.98" y="221.9" width="4.2" height="29.5" fill="#26a69a"/>
<path d="M711.88 220.1V246.9" stroke="#ef5350" stroke-width="1.1"/>
<rect x="709.78" y="222.8" width="4.2" height="20.1" fill="#ef5350"/>
<path d="M716.67 206.3V244.2" stroke="#26a69a" stroke-width="1.1"/>
<rect x="714.57" y="207.7" width="4.2" height="35.2" fill="#26a69a"/>
<path d="M721.47 192.1V215.1" stroke="#26a69a" stroke-width="1.1"/>
<rect x="719.37" y="206.3" width="4.2" height="1.4" fill="#26a69a"/>
<path d="M726.26 202.2V215.1" stroke="#ef5350" stroke-width="1.1"/>
<rect x="724.16" y="206.3" width="4.2" height="2.4" fill="#ef5350"/>
<path d="M731.06 189.4V207.7" stroke="#26a69a" stroke-width="1.1"/>
<rect x="728.96" y="192.1" width="4.2" height="15.6" fill="#26a69a"/>
<path d="M735.86 150.8V197.5" stroke="#26a69a" stroke-width="1.1"/>
<rect x="733.75" y="160.3" width="4.2" height="31.8" fill="#26a69a"/>
<path d="M740.65 145.4V184.7" stroke="#ef5350" stroke-width="1.1"/>
<rect x="738.55" y="160.0" width="4.2" height="23.0" fill="#ef5350"/>
<path d="M745.44 169.8V194.8" stroke="#ef5350" stroke-width="1.1"/>
<rect x="743.34" y="182.2" width="4.2" height="11.9" fill="#ef5350"/>
<path d="M750.24 189.4V194.8" stroke="#26a69a" stroke-width="1.1"/>
<rect x="748.14" y="190.1" width="4.2" height="4.7" fill="#26a69a"/>
<path d="M755.03 190.1V242.0" stroke="#ef5350" stroke-width="1.1"/>
<rect x="752.93" y="190.1" width="4.2" height="51.9" fill="#ef5350"/>
<path d="M759.83 229.0V265.4" stroke="#ef5350" stroke-width="1.1"/>
<rect x="757.73" y="242.9" width="4.2" height="10.2" fill="#ef5350"/>
<path d="M764.62 226.0V253.7" stroke="#26a69a" stroke-width="1.1"/>
<rect x="762.52" y="240.2" width="4.2" height="12.9" fill="#26a69a"/>
<path d="M769.42 212.7V273.5" stroke="#ef5350" stroke-width="1.1"/>
<rect x="767.32" y="240.6" width="4.2" height="2.3" fill="#ef5350"/>
<path d="M774.21 223.0V251.0" stroke="#26a69a" stroke-width="1.1"/>
<rect x="772.11" y="237.5" width="4.2" height="5.4" fill="#26a69a"/>
<path d="M779.01 229.0V257.1" stroke="#ef5350" stroke-width="1.1"/>
<rect x="776.91" y="237.5" width="4.2" height="10.2" fill="#ef5350"/>
<path d="M783.80 226.0V251.0" stroke="#26a69a" stroke-width="1.1"/>
<rect x="781.70" y="226.0" width="4.2" height="21.7" fill="#26a69a"/>
<path d="M788.60 212.0V247.7" stroke="#ef5350" stroke-width="1.1"/>
<rect x="786.50" y="226.0" width="4.2" height="1.2" fill="#ef5350"/>
<path d="M793.39 219.2V245.0" stroke="#ef5350" stroke-width="1.1"/>
<rect x="791.29" y="226.0" width="4.2" height="12.9" fill="#ef5350"/>
<path d="M798.19 228.7V246.3" stroke="#ef5350" stroke-width="1.1"/>
<rect x="796.09" y="237.1" width="4.2" height="1.8" fill="#ef5350"/>
<path d="M802.99 237.5V277.6" stroke="#ef5350" stroke-width="1.1"/>
<rect x="800.88" y="237.9" width="4.2" height="38.1" fill="#ef5350"/>
<path d="M807.78 265.0V289.1" stroke="#26a69a" stroke-width="1.1"/>
<rect x="805.68" y="270.8" width="4.2" height="5.2" fill="#26a69a"/>
<path d="M812.57 258.8V289.1" stroke="#ef5350" stroke-width="1.1"/>
<rect x="810.47" y="272.2" width="4.2" height="3.4" fill="#ef5350"/>
<path d="M817.37 263.2V279.6" stroke="#26a69a" stroke-width="1.1"/>
<rect x="815.27" y="264.1" width="4.2" height="11.9" fill="#26a69a"/>
<path d="M822.16 257.1V272.9" stroke="#ef5350" stroke-width="1.1"/>
<rect x="820.06" y="264.1" width="4.2" height="8.8" fill="#ef5350"/>
<path d="M826.96 254.4V301.3" stroke="#ef5350" stroke-width="1.1"/>
<rect x="824.86" y="271.5" width="4.2" height="15.3" fill="#ef5350"/>
<path d="M831.75 246.0V288.4" stroke="#26a69a" stroke-width="1.1"/>
<rect x="829.65" y="270.1" width="4.2" height="16.7" fill="#26a69a"/>
<path d="M836.55 261.6V301.3" stroke="#ef5350" stroke-width="1.1"/>
<rect x="834.45" y="270.1" width="4.2" height="19.7" fill="#ef5350"/>
<path d="M841.34 269.2V306.0" stroke="#26a69a" stroke-width="1.1"/>
<rect x="839.24" y="287.1" width="4.2" height="3.8" fill="#26a69a"/>
<path d="M846.14 287.1V313.5" stroke="#ef5350" stroke-width="1.1"/>
<rect x="844.04" y="287.1" width="4.2" height="10.8" fill="#ef5350"/>
<path d="M850.93 284.1V306.7" stroke="#26a69a" stroke-width="1.1"/>
<rect x="848.83" y="290.0" width="4.2" height="7.9" fill="#26a69a"/>
<path d="M855.73 268.8V314.8" stroke="#ef5350" stroke-width="1.1"/>
<rect x="853.63" y="290.0" width="4.2" height="14.9" fill="#ef5350"/>
<path d="M860.52 274.9V322.9" stroke="#26a69a" stroke-width="1.1"/>
<rect x="858.42" y="276.9" width="4.2" height="27.1" fill="#26a69a"/>
<path d="M865.32 264.1V322.5" stroke="#ef5350" stroke-width="1.1"/>
<rect x="863.22" y="277.3" width="4.2" height="43.6" fill="#ef5350"/>
<path d="M870.12 318.2V350.0" stroke="#ef5350" stroke-width="1.1"/>
<rect x="868.01" y="319.5" width="4.2" height="23.0" fill="#ef5350"/>
<path d="M874.91 331.0V350.4" stroke="#26a69a" stroke-width="1.1"/>
<rect x="872.81" y="335.8" width="4.2" height="6.7" fill="#26a69a"/>
<path d="M879.70 320.9V340.0" stroke="#26a69a" stroke-width="1.1"/>
<rect x="877.60" y="328.2" width="4.2" height="8.8" fill="#26a69a"/>
<path d="M884.50 318.0V341.7" stroke="#26a69a" stroke-width="1.1"/>
<rect x="882.40" y="324.1" width="4.2" height="4.4" fill="#26a69a"/>
<path d="M889.29 315.3V331.6" stroke="#26a69a" stroke-width="1.1"/>
<rect x="887.19" y="321.2" width="4.2" height="3.6" fill="#26a69a"/>
<path d="M894.09 309.9V335.0" stroke="#ef5350" stroke-width="1.1"/>
<rect x="891.99" y="322.1" width="4.2" height="5.8" fill="#ef5350"/>
<path d="M898.88 313.0V362.7" stroke="#ef5350" stroke-width="1.1"/>
<rect x="896.78" y="328.2" width="4.2" height="31.8" fill="#ef5350"/>
<path d="M903.68 345.1V363.4" stroke="#26a69a" stroke-width="1.1"/>
<rect x="901.58" y="351.2" width="4.2" height="8.8" fill="#26a69a"/>
<path d="M908.47 320.1V349.8" stroke="#26a69a" stroke-width="1.1"/>
<rect x="906.37" y="326.8" width="4.2" height="23.0" fill="#26a69a"/>
<path d="M913.27 319.0V347.1" stroke="#26a69a" stroke-width="1.1"/>
<rect x="911.17" y="324.8" width="4.2" height="2.0" fill="#26a69a"/>
<path d="M918.06 318.0V331.6" stroke="#26a69a" stroke-width="1.1"/>
<rect x="915.96" y="324.1" width="4.2" height="1.7" fill="#26a69a"/>
<path d="M922.86 293.0V331.6" stroke="#26a69a" stroke-width="1.1"/>
<rect x="920.76" y="309.0" width="4.2" height="15.8" fill="#26a69a"/>
<path d="M927.65 300.0V318.0" stroke="#26a69a" stroke-width="1.1"/>
<rect x="925.55" y="304.1" width="4.2" height="5.8" fill="#26a69a"/>
<path d="M932.45 267.8V311.3" stroke="#26a69a" stroke-width="1.1"/>
<rect x="930.35" y="301.4" width="4.2" height="4.5" fill="#26a69a"/>
<path d="M937.25 293.0V306.8" stroke="#ef5350" stroke-width="1.1"/>
<rect x="935.14" y="302.2" width="4.2" height="1.6" fill="#ef5350"/>
<path d="M942.04 282.9V305.9" stroke="#26a69a" stroke-width="1.1"/>
<rect x="939.94" y="287.3" width="4.2" height="13.6" fill="#26a69a"/>
<path d="M946.83 280.1V295.7" stroke="#ef5350" stroke-width="1.1"/>
<rect x="944.73" y="287.3" width="4.2" height="4.4" fill="#ef5350"/>
<path d="M951.63 288.3V314.0" stroke="#ef5350" stroke-width="1.1"/>
<rect x="949.53" y="291.0" width="4.2" height="3.4" fill="#ef5350"/>
<path d="M956.42 284.2V314.7" stroke="#ef5350" stroke-width="1.1"/>
<rect x="954.32" y="294.1" width="4.2" height="16.8" fill="#ef5350"/>
<path d="M961.22 291.4V313.3" stroke="#26a69a" stroke-width="1.1"/>
<rect x="959.12" y="294.6" width="4.2" height="16.3" fill="#26a69a"/>
<path d="M966.01 279.5V294.4" stroke="#26a69a" stroke-width="1.1"/>
<rect x="963.91" y="285.2" width="4.2" height="9.2" fill="#26a69a"/>
<path d="M970.81 275.4V291.7" stroke="#26a69a" stroke-width="1.1"/>
<rect x="968.71" y="283.5" width="4.2" height="1.2" fill="#26a69a"/>
<path d="M975.61 254.7V291.7" stroke="#26a69a" stroke-width="1.1"/>
<rect x="973.50" y="263.1" width="4.2" height="20.9" fill="#26a69a"/>
<path d="M980.40 237.4V278.6" stroke="#26a69a" stroke-width="1.1"/>
<rect x="978.30" y="239.0" width="4.2" height="24.7" fill="#26a69a"/>
<path d="M985.19 221.8V252.9" stroke="#ef5350" stroke-width="1.1"/>
<rect x="983.09" y="239.0" width="4.2" height="4.5" fill="#ef5350"/>
<path d="M989.99 238.0V255.0" stroke="#ef5350" stroke-width="1.1"/>
<rect x="987.89" y="241.2" width="4.2" height="9.0" fill="#ef5350"/>
<path d="M994.78 240.7V260.4" stroke="#26a69a" stroke-width="1.1"/>
<rect x="992.68" y="248.9" width="4.2" height="1.2" fill="#26a69a"/>
<path d="M999.58 230.3V251.6" stroke="#26a69a" stroke-width="1.1"/>
<rect x="997.48" y="239.0" width="4.2" height="11.2" fill="#26a69a"/>
<path d="M1004.38 234.9V271.2" stroke="#ef5350" stroke-width="1.1"/>
<rect x="1002.27" y="239.0" width="4.2" height="31.1" fill="#ef5350"/>
<path d="M1009.17 262.5V275.3" stroke="#26a69a" stroke-width="1.1"/>
<rect x="1007.07" y="269.0" width="4.2" height="1.2" fill="#26a69a"/>
<path d="M1013.96 259.1V278.0" stroke="#ef5350" stroke-width="1.1"/>
<rect x="1011.86" y="267.6" width="4.2" height="9.8" fill="#ef5350"/>
<path d="M1018.76 274.0V294.7" stroke="#ef5350" stroke-width="1.1"/>
<rect x="1016.66" y="276.0" width="4.2" height="4.7" fill="#ef5350"/>
<path d="M1023.55 251.0V294.3" stroke="#26a69a" stroke-width="1.1"/>
<rect x="1021.45" y="251.9" width="4.2" height="29.5" fill="#26a69a"/>
<path d="M1028.35 240.8V284.1" stroke="#ef5350" stroke-width="1.1"/>
<rect x="1026.25" y="251.9" width="4.2" height="31.1" fill="#ef5350"/>
<path d="M1033.14 282.1V310.9" stroke="#ef5350" stroke-width="1.1"/>
<rect x="1031.05" y="282.1" width="4.2" height="28.8" fill="#ef5350"/>
<path d="M1037.94 292.9V311.2" stroke="#26a69a" stroke-width="1.1"/>
<rect x="1035.84" y="294.7" width="4.2" height="15.1" fill="#26a69a"/>
<path d="M1042.74 280.1V300.1" stroke="#ef5350" stroke-width="1.1"/>
<rect x="1040.64" y="294.7" width="4.2" height="2.3" fill="#ef5350"/>
<path d="M1047.53 294.7V306.9" stroke="#ef5350" stroke-width="1.1"/>
<rect x="1045.43" y="296.3" width="4.2" height="3.4" fill="#ef5350"/>
<path d="M1052.33 299.0V324.6" stroke="#ef5350" stroke-width="1.1"/>
<rect x="1050.23" y="299.7" width="4.2" height="18.6" fill="#ef5350"/>
<path d="M1057.12 309.8V328.3" stroke="#26a69a" stroke-width="1.1"/>
<rect x="1055.02" y="318.1" width="4.2" height="1.2" fill="#26a69a"/>
<path d="M1061.91 313.0V346.5" stroke="#ef5350" stroke-width="1.1"/>
<rect x="1059.82" y="319.2" width="4.2" height="22.6" fill="#ef5350"/>
<path d="M1066.71 323.3V349.9" stroke="#26a69a" stroke-width="1.1"/>
<rect x="1064.61" y="326.0" width="4.2" height="15.8" fill="#26a69a"/>
<path d="M1071.51 294.3V330.6" stroke="#26a69a" stroke-width="1.1"/>
<rect x="1069.41" y="296.3" width="4.2" height="30.6" fill="#26a69a"/>
<path d="M1076.30 274.0V296.3" stroke="#26a69a" stroke-width="1.1"/>
<rect x="1074.20" y="294.7" width="4.2" height="1.6" fill="#26a69a"/>
<path d="M1081.10 288.5V316.7" stroke="#ef5350" stroke-width="1.1"/>
<rect x="1079.00" y="294.3" width="4.2" height="1.2" fill="#ef5350"/>
<path d="M1085.89 281.4V301.7" stroke="#26a69a" stroke-width="1.1"/>
<rect x="1083.79" y="282.8" width="4.2" height="12.8" fill="#26a69a"/>
<path d="M1090.69 269.9V288.9" stroke="#ef5350" stroke-width="1.1"/>
<rect x="1088.59" y="282.8" width="4.2" height="1.3" fill="#ef5350"/>
<path d="M1095.48 279.4V347.9" stroke="#ef5350" stroke-width="1.1"/>
<rect x="1093.38" y="284.8" width="4.2" height="56.3" fill="#ef5350"/>
<path d="M1100.28 334.4V362.8" stroke="#ef5350" stroke-width="1.1"/>
<rect x="1098.18" y="341.1" width="4.2" height="9.5" fill="#ef5350"/>
<path d="M1105.07 348.6V401.8" stroke="#ef5350" stroke-width="1.1"/>
<rect x="1102.97" y="349.1" width="4.2" height="44.6" fill="#ef5350"/>
<path d="M1109.87 380.2V402.5" stroke="#ef5350" stroke-width="1.1"/>
<rect x="1107.77" y="396.4" width="4.2" height="4.2" fill="#ef5350"/>
<path d="M1114.66 386.3V411.2" stroke="#ef5350" stroke-width="1.1"/>
<rect x="1112.56" y="400.9" width="4.2" height="3.7" fill="#ef5350"/>
<path d="M1119.46 372.9V409.8" stroke="#26a69a" stroke-width="1.1"/>
<rect x="1117.36" y="376.8" width="4.2" height="28.8" fill="#26a69a"/>
<path d="M711.3 128.9L1292.8 336.1M706.6 132.3L1288 339.4" stroke="#f2186a" stroke-width="2.3" stroke-linecap="round"/>
</g>
<text x="9.0" y="16.8" font-size="11.0" fill="#d1d4dc" stroke="#d1d4dc" stroke-width="0.3" font-weight="normal" text-anchor="start" textLength="328.3" lengthAdjust="spacingAndGlyphs">dacolmanfx published on TradingView.com, Apr 17, 2024 17:13 UTC-4</text>
<text x="15.9" y="40.8" font-size="10.6" fill="#b2b5be" stroke="#b2b5be" stroke-width="0.3" font-weight="normal" text-anchor="start" textLength="122.7" lengthAdjust="spacingAndGlyphs">Euro / U.S. Dollar, 1D, ICE</text>
<text x="146.0" y="40.8" font-size="10.6" fill="#b2b5be" stroke="#b2b5be" stroke-width="0.3" font-weight="normal" text-anchor="start" textLength="7.4" lengthAdjust="spacingAndGlyphs">O</text>
<text x="154.0" y="40.8" font-size="10.6" fill="#26a69a" stroke="#26a69a" stroke-width="0.3" font-weight="normal" text-anchor="start" textLength="35.4" lengthAdjust="spacingAndGlyphs">1.06155</text>
<text x="196.3" y="40.8" font-size="10.6" fill="#b2b5be" stroke="#b2b5be" stroke-width="0.3" font-weight="normal" text-anchor="start" textLength="7.3" lengthAdjust="spacingAndGlyphs">H</text>
<text x="204.2" y="40.8" font-size="10.6" fill="#26a69a" stroke="#26a69a" stroke-width="0.3" font-weight="normal" text-anchor="start" textLength="35.8" lengthAdjust="spacingAndGlyphs">1.06796</text>
<text x="247.0" y="40.8" font-size="10.6" fill="#b2b5be" stroke="#b2b5be" stroke-width="0.3" font-weight="normal" text-anchor="start" textLength="4.8" lengthAdjust="spacingAndGlyphs">L</text>
<text x="252.4" y="40.8" font-size="10.6" fill="#26a69a" stroke="#26a69a" stroke-width="0.3" font-weight="normal" text-anchor="start" textLength="35.8" lengthAdjust="spacingAndGlyphs">1.06061</text>
<text x="295.7" y="40.8" font-size="10.6" fill="#b2b5be" stroke="#b2b5be" stroke-width="0.3" font-weight="normal" text-anchor="start" textLength="6.2" lengthAdjust="spacingAndGlyphs">C</text>
<text x="302.5" y="40.8" font-size="10.6" fill="#26a69a" stroke="#26a69a" stroke-width="0.3" font-weight="normal" text-anchor="start" textLength="36.5" lengthAdjust="spacingAndGlyphs">1.06718</text>
<text x="346.1" y="40.8" font-size="10.6" fill="#26a69a" stroke="#26a69a" stroke-width="0.3" font-weight="normal" text-anchor="start" textLength="40.3" lengthAdjust="spacingAndGlyphs">+0.00551</text>
<text x="389.0" y="40.8" font-size="10.6" fill="#26a69a" stroke="#26a69a" stroke-width="0.3" font-weight="normal" text-anchor="start" textLength="42.4" lengthAdjust="spacingAndGlyphs">(+0.52%)</text>
<text x="153.3" y="61.0" font-size="14.5" fill="#ffffff" font-weight="bold" text-anchor="start" textLength="70.3" lengthAdjust="spacingAndGlyphs">2023 highs</text>
<text x="422.2" y="509.5" font-size="14.5" fill="#ffffff" font-weight="bold" text-anchor="start" textLength="65.4" lengthAdjust="spacingAndGlyphs">2023 lows</text>
<text x="1260.8" y="66.0" font-size="11.0" fill="#ffffff" stroke="#ffffff" stroke-width="0.3" font-weight="normal" text-anchor="start" textLength="85.2" lengthAdjust="spacingAndGlyphs">100.00% (1.12806)</text>
<text x="1260.7" y="275.0" font-size="11.0" fill="#ffffff" stroke="#ffffff" stroke-width="0.3" font-weight="normal" text-anchor="start" textLength="79.7" lengthAdjust="spacingAndGlyphs">50.00% (1.08650)</text>
<text x="1260.5" y="483.1" font-size="11.0" fill="#ffffff" stroke="#ffffff" stroke-width="0.3" font-weight="normal" text-anchor="start" textLength="74.8" lengthAdjust="spacingAndGlyphs">0.00% (1.04494)</text>
<text x="1375.0" y="65.5" font-size="11.0" fill="#b2b5be" stroke="#b2b5be" stroke-width="0.3" font-weight="normal" text-anchor="start" textLength="36.4" lengthAdjust="spacingAndGlyphs">1.13000</text>
<text x="1375.0" y="115.7" font-size="11.0" fill="#b2b5be" stroke="#b2b5be" stroke-width="0.3" font-weight="normal" text-anchor="start" textLength="36.4" lengthAdjust="spacingAndGlyphs">1.12000</text>
<text x="1375.0" y="165.9" font-size="11.0" fill="#b2b5be" stroke="#b2b5be" stroke-width="0.3" font-weight="normal" text-anchor="start" textLength="36.4" lengthAdjust="spacingAndGlyphs">1.11000</text>
<text x="1375.0" y="216.2" font-size="11.0" fill="#b2b5be" stroke="#b2b5be" stroke-width="0.3" font-weight="normal" text-anchor="start" textLength="36.4" lengthAdjust="spacingAndGlyphs">1.10000</text>
<text x="1375.0" y="266.4" font-size="11.0" fill="#b2b5be" stroke="#b2b5be" stroke-width="0.3" font-weight="normal" text-anchor="start" textLength="36.4" lengthAdjust="spacingAndGlyphs">1.09000</text>
<text x="1375.0" y="316.6" font-size="11.0" fill="#b2b5be" stroke="#b2b5be" stroke-width="0.3" font-weight="normal" text-anchor="start" textLength="36.4" lengthAdjust="spacingAndGlyphs">1.08000</text>
<text x="1375.0" y="366.8" font-size="11.0" fill="#b2b5be" stroke="#b2b5be" stroke-width="0.3" font-weight="normal" text-anchor="start" textLength="36.4" lengthAdjust="spacingAndGlyphs">1.07000</text>
<text x="1375.0" y="417.1" font-size="11.0" fill="#b2b5be" stroke="#b2b5be" stroke-width="0.3" font-weight="normal" text-anchor="start" textLength="36.4" lengthAdjust="spacingAndGlyphs">1.06000</text>
<text x="1375.0" y="467.3" font-size="11.0" fill="#b2b5be" stroke="#b2b5be" stroke-width="0.3" font-weight="normal" text-anchor="start" textLength="36.4" lengthAdjust="spacingAndGlyphs">1.05000</text>
<text x="1375.0" y="517.5" font-size="11.0" fill="#b2b5be" stroke="#b2b5be" stroke-width="0.3" font-weight="normal" text-anchor="start" textLength="36.4" lengthAdjust="spacingAndGlyphs">1.04000</text>
<text x="1374.5" y="587.7" font-size="11.0" fill="#b2b5be" stroke="#b2b5be" stroke-width="0.3" font-weight="normal" text-anchor="start" textLength="25.7" lengthAdjust="spacingAndGlyphs">60.00</text>
<text x="1374.5" y="636.7" font-size="11.0" fill="#b2b5be" stroke="#b2b5be" stroke-width="0.3" font-weight="normal" text-anchor="start" textLength="25.7" lengthAdjust="spacingAndGlyphs">40.00</text>
<text x="13.1" y="700.0" font-size="11.0" fill="#b2b5be" stroke="#b2b5be" stroke-width="0.3" font-weight="normal" text-anchor="start" textLength="16.5" lengthAdjust="spacingAndGlyphs">Jun</text>
<text x="119.8" y="700.0" font-size="11.0" fill="#b2b5be" stroke="#b2b5be" stroke-width="0.3" font-weight="normal" text-anchor="start" textLength="13.3" lengthAdjust="spacingAndGlyphs">Jul</text>
<text x="218.8" y="700.0" font-size="11.0" fill="#b2b5be" stroke="#b2b5be" stroke-width="0.3" font-weight="normal" text-anchor="start" textLength="17.5" lengthAdjust="spacingAndGlyphs">Aug</text>
<text x="328.9" y="700.0" font-size="11.0" fill="#b2b5be" stroke="#b2b5be" stroke-width="0.3" font-weight="normal" text-anchor="start" textLength="17.5" lengthAdjust="spacingAndGlyphs">Sep</text>
<text x="429.8" y="700.0" font-size="11.0" fill="#b2b5be" stroke="#b2b5be" stroke-width="0.3" font-weight="normal" text-anchor="start" textLength="17.1" lengthAdjust="spacingAndGlyphs">Oct</text>
<text x="535.6" y="700.0" font-size="11.0" fill="#b2b5be" stroke="#b2b5be" stroke-width="0.3" font-weight="normal" text-anchor="start" textLength="17.2" lengthAdjust="spacingAndGlyphs">Nov</text>
<text x="640.8" y="700.0" font-size="11.0" fill="#b2b5be" stroke="#b2b5be" stroke-width="0.3" font-weight="normal" text-anchor="start" textLength="17.2" lengthAdjust="spacingAndGlyphs">Dec</text>
<text x="738.2" y="700.0" font-size="11.0" fill="#b2b5be" font-weight="bold" text-anchor="start" textLength="24.1" lengthAdjust="spacingAndGlyphs">2024</text>
<text x="852.0" y="700.0" font-size="11.0" fill="#b2b5be" stroke="#b2b5be" stroke-width="0.3" font-weight="normal" text-anchor="start" textLength="16.9" lengthAdjust="spacingAndGlyphs">Feb</text>
<text x="952.4" y="700.0" font-size="11.0" fill="#b2b5be" stroke="#b2b5be" stroke-width="0.3" font-weight="normal" text-anchor="start" textLength="17.4" lengthAdjust="spacingAndGlyphs">Mar</text>
<text x="1053.3" y="700.0" font-size="11.0" fill="#b2b5be" stroke="#b2b5be" stroke-width="0.3" font-weight="normal" text-anchor="start" textLength="16.6" lengthAdjust="spacingAndGlyphs">Apr</text>
<text x="1158.0" y="700.0" font-size="11.0" fill="#b2b5be" stroke="#b2b5be" stroke-width="0.3" font-weight="normal" text-anchor="start" textLength="18.9" lengthAdjust="spacingAndGlyphs">May</text>
<text x="1268.8" y="700.0" font-size="11.0" fill="#b2b5be" stroke="#b2b5be" stroke-width="0.3" font-weight="normal" text-anchor="start" textLength="16.8" lengthAdjust="spacingAndGlyphs">Jun</text>
<text x="29.4" y="727.7" font-size="11.2" fill="#d1d4dc" stroke="#d1d4dc" stroke-width="0.3" font-weight="normal" text-anchor="start" textLength="61.6" lengthAdjust="spacingAndGlyphs">TradingView</text>
<g clip-path="url(#cra)"><text x="1374.5" y="538.8" font-size="11.0" fill="#b2b5be" stroke="#b2b5be" stroke-width="0.3" font-weight="normal" text-anchor="start" textLength="25.7" lengthAdjust="spacingAndGlyphs">80.00</text><text x="1374.5" y="685.6" font-size="11.0" fill="#b2b5be" stroke="#b2b5be" stroke-width="0.3" font-weight="normal" text-anchor="start" textLength="25.7" lengthAdjust="spacingAndGlyphs">20.00</text></g>
<path d="M1367 369.4H1415a2 2 0 0 1 2 2V383a2 2 0 0 1 -2 2H1367Z" fill="#26a69a"/><text x="1374.8" y="380.8" font-size="11" fill="#ffffff" textLength="36.6" lengthAdjust="spacingAndGlyphs">1.06718</text>
<g fill="#d1d4dc"><path d="M9.2 718.7H15.9V726.9H12V721.5H9.2Z"/><circle cx="18.5" cy="720.9" r="1.55"/><path d="M22.9 718.7H25.9L23.5 726.9H19Z"/></g>
<g fill="#eceef2" opacity="0.585"><path fill-rule="evenodd" d="M1195.3 646.9L1204.5 646.9L1204.8 661.3L1194.6 661.3Z"/><path fill-rule="evenodd" d="M1208.2 651.1L1216.1 646.4L1226.5 646.4L1226.9 648.5L1246.2 648.5L1245.0 655.3L1216.8 655.3L1214.1 658.0L1207.6 658.0Z"/><path fill-rule="evenodd" d="M1190.2 664.3L1198.7 664.3L1199.3 672.4L1202.4 674.3L1239.7 674.3L1238.7 679.5L1189.8 679.5Z"/><path fill-rule="evenodd" d="M1193.8 682.1L1201.7 682.1L1190.2 699.4L1181.1 699.4Z"/><path fill-rule="evenodd" d="M1208.1 659L1242.5 659L1234 697L1229.7 699.2L1197.4 699.2ZM1215.1 665.4L1232.1 665.4L1229.4 674.8L1226.7 667.5L1216 667.5L1217.8 674.8L1212.7 674.8ZM1210.5 682.4L1227.9 682.4L1224.8 692.5L1222.4 684.5L1211.4 684.5L1213.6 692.5L1207.5 692.5Z"/><path fill-rule="evenodd" d="M1255 646.9L1304.9 646.9L1293.2 698.2L1289.9 700.2L1284.5 700.2L1290.3 675.5L1248.9 675.5ZM1262.7 653.6L1294.8 653.6L1291.1 668.2L1259.5 668.2Z"/><path fill-rule="evenodd" d="M1244.5 682.8L1285.9 682.8L1284.2 690.1L1243.7 690.1Z"/><path fill-rule="evenodd" d="M1313.4 646.9L1339.4 646.9L1327.2 699.8L1317.5 699.8L1314.2 691.7L1310.6 699.8L1300 699.8L1303.7 686ZM1318.3 656L1330 656L1321.9 685.6L1320.3 685.6L1328 658L1319.9 658L1312.2 685.6L1310.6 685.6Z"/><path fill-rule="evenodd" d="M1340.6 649.9L1357.3 649.9L1358.9 647.1L1366.6 647.1L1367.4 650.7L1364.8 658.6L1338.2 658.6Z"/><path fill-rule="evenodd" d="M1345.5 661L1352.8 661L1337 699.2L1328.4 699.2Z"/><path fill-rule="evenodd" d="M1354 659.6L1364.3 658.6L1353.6 696.6L1351.2 699.2L1339.4 699.2L1340.2 691.7L1345.1 691.3Z"/><path fill-rule="evenodd" d="M1382.6 646.9L1392.3 646.9L1383.5 658.4L1394.5 658.6L1379.5 678.7L1386.4 681.8L1385.2 687L1364.9 687L1366.3 681.6L1374.6 671L1369.3 670.2L1371.2 662.1ZM1379.9 660.2L1384.4 660.2L1383.1 663.1L1379.1 663.1Z"/><path fill-rule="evenodd" d="M1363.2 691.7L1384.4 691.7L1383.1 699.4L1362 699.4Z"/><path fill-rule="evenodd" d="M1397.5 647.1L1427.1 647.1L1425.9 651.1L1415 663.3L1417.4 666.5L1421.9 667.4L1420.7 673.8L1410.5 673.8L1407.3 670.2L1402.4 673.8L1390.6 673.8L1392.2 667.8L1399.6 667.4L1412.5 654L1396.3 654Z"/><path fill-rule="evenodd" d="M1397 676.3L1419.8 676.3L1418.6 682.8L1395.5 682.8Z"/><path fill-rule="evenodd" d="M1397.9 682.8L1407.7 682.8L1405.2 692.5L1395.5 692.5Z"/><path fill-rule="evenodd" d="M1383.2 692.5L1415 692.5L1413.4 699.8L1382 699.8Z"/></g>
<text x="1195.2" y="734.5" font-size="31" font-weight="bold" font-style="italic" fill="#10204f" textLength="19.9" lengthAdjust="spacingAndGlyphs">z</text><text x="1193.9" y="733.2" font-size="31" font-weight="bold" font-style="italic" fill="#2247a8" textLength="19.9" lengthAdjust="spacingAndGlyphs">z</text><text x="1221.7" y="734.5" font-size="31" font-weight="bold" font-style="italic" fill="#10204f" textLength="19.0" lengthAdjust="spacingAndGlyphs">z</text><text x="1220.4" y="733.2" font-size="31" font-weight="bold" font-style="italic" fill="#2247a8" textLength="19.0" lengthAdjust="spacingAndGlyphs">z</text><text x="1249.8" y="734.5" font-size="31" font-weight="bold" font-style="italic" fill="#10204f" textLength="18.2" lengthAdjust="spacingAndGlyphs">r</text><text x="1248.5" y="733.2" font-size="31" font-weight="bold" font-style="italic" fill="#2247a8" textLength="18.2" lengthAdjust="spacingAndGlyphs">r</text><text x="1274.6" y="734.5" font-size="31" font-weight="bold" font-style="italic" fill="#10204f" textLength="15.6" lengthAdjust="spacingAndGlyphs">t</text><text x="1273.3" y="733.2" font-size="31" font-weight="bold" font-style="italic" fill="#2247a8" textLength="15.6" lengthAdjust="spacingAndGlyphs">t</text><text x="1294.2" y="734.5" font-size="31" font-weight="bold" font-style="italic" fill="#10204f" textLength="20.8" lengthAdjust="spacingAndGlyphs">0</text><text x="1292.9" y="733.2" font-size="31" font-weight="bold" font-style="italic" fill="#2247a8" textLength="20.8" lengthAdjust="spacingAndGlyphs">0</text><text x="1328.4" y="734.5" font-size="31" font-weight="bold" font-style="italic" fill="#10204f" textLength="15.6" lengthAdjust="spacingAndGlyphs">1</text><text x="1327.1" y="733.2" font-size="31" font-weight="bold" font-style="italic" fill="#2247a8" textLength="15.6" lengthAdjust="spacingAndGlyphs">1</text><text x="1352.3" y="734.5" font-size="31" font-weight="bold" font-style="italic" fill="#10204f" textLength="10.5" lengthAdjust="spacingAndGlyphs">.</text><text x="1351.0" y="733.2" font-size="31" font-weight="bold" font-style="italic" fill="#2247a8" textLength="10.5" lengthAdjust="spacingAndGlyphs">.</text><text x="1371.9" y="734.5" font-size="31" font-weight="bold" font-style="italic" fill="#10204f" textLength="20.8" lengthAdjust="spacingAndGlyphs">c</text><text x="1370.6" y="733.2" font-size="31" font-weight="bold" font-style="italic" fill="#2247a8" textLength="20.8" lengthAdjust="spacingAndGlyphs">c</text><text x="1396.7" y="734.5" font-size="31" font-weight="bold" font-style="italic" fill="#10204f" textLength="22.4" lengthAdjust="spacingAndGlyphs">n</text><text x="1395.4" y="733.2" font-size="31" font-weight="bold" font-style="italic" fill="#2247a8" textLength="22.4" lengthAdjust="spacingAndGlyphs">n</text>
</svg>
</body></html>
